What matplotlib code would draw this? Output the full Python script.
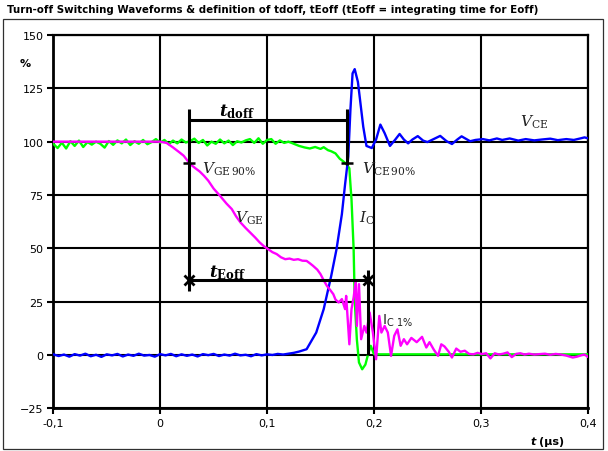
import numpy as np
import matplotlib
matplotlib.use("Agg")
import matplotlib.pyplot as plt
from matplotlib.patches import Rectangle

# ---------------------------------------------------------
# DATA (t in µs, values in %)
# ---------------------------------------------------------
vce_t = [-0.100, -0.095, -0.090, -0.085, -0.080, -0.075, -0.070, -0.065, -0.060, -0.055,
         -0.050, -0.045, -0.040, -0.035, -0.030, -0.025, -0.020, -0.015, -0.010, -0.005,
         0.000, 0.005, 0.010, 0.015, 0.020, 0.025, 0.030, 0.035, 0.040, 0.045,
         0.050, 0.055, 0.060, 0.065, 0.070, 0.075, 0.080, 0.085, 0.090, 0.095,
         0.100, 0.105, 0.110, 0.115, 0.120, 0.125, 0.130, 0.137, 0.146, 0.153,
         0.160, 0.165, 0.170, 0.173, 0.176, 0.178, 0.180, 0.182, 0.185, 0.190,
         0.193, 0.198, 0.202, 0.206, 0.210, 0.215, 0.220, 0.224, 0.228, 0.232,
         0.236, 0.241, 0.246, 0.250, 0.255, 0.262, 0.268, 0.273, 0.278, 0.282,
         0.290, 0.295, 0.302, 0.308, 0.315, 0.320, 0.327, 0.335, 0.342, 0.350,
         0.357, 0.365, 0.372, 0.380, 0.387, 0.393, 0.397, 0.400]
vce = [0.3, -0.5, 0.2, -0.8, 0.4, -0.3, 0.6, -0.6, 0.1, -0.9,
       0.3, -0.2, 0.5, -0.7, 0.2, -0.4, 0.6, -0.3, 0.0, -0.8,
       0.4, -0.2, 0.5, -0.6, 0.3, -0.4, 0.2, -0.7, 0.4, -0.1,
       0.5, -0.5, 0.2, -0.3, 0.6, -0.2, 0.1, -0.6, 0.4, -0.2,
       0.3, 0.0, 0.5, 0.2, 0.6, 1.0, 1.6, 2.7, 10.5, 21.5,
       37.0, 49.6, 66.0, 80.0, 93.0, 115.0, 132.0, 134.0, 128.0, 107.0,
       98.0, 97.0, 101.0, 108.0, 104.0, 98.0, 101.0, 103.6, 101.0, 99.2,
       101.0, 102.6, 100.5, 99.8, 101.0, 102.7, 100.2, 98.9, 101.0, 102.5,
       100.2, 100.8, 101.2, 100.6, 101.5, 100.8, 101.5, 100.5, 101.2, 100.6,
       101.0, 101.4, 100.7, 101.2, 100.8, 101.5, 102.0, 101.6]

ic_t = [-0.100, -0.096, -0.092, -0.088, -0.084, -0.080, -0.076, -0.072, -0.068, -0.064,
        -0.060, -0.056, -0.052, -0.048, -0.044, -0.040, -0.036, -0.032, -0.028, -0.024,
        -0.020, -0.016, -0.012, -0.008, -0.004, 0.000, 0.004, 0.008, 0.012, 0.016,
        0.020, 0.024, 0.028, 0.032, 0.036, 0.040, 0.044, 0.048, 0.052, 0.056,
        0.060, 0.064, 0.068, 0.072, 0.076, 0.080, 0.084, 0.088, 0.092, 0.096,
        0.100, 0.104, 0.108, 0.112, 0.116, 0.120, 0.124, 0.130, 0.135, 0.140,
        0.145, 0.150, 0.153, 0.157, 0.160, 0.164, 0.168, 0.172, 0.175, 0.177,
        0.178, 0.179, 0.181, 0.182, 0.184, 0.186, 0.189, 0.192, 0.195, 0.197,
        0.200, 0.205, 0.400]
ic = [99.0, 97.0, 99.5, 96.8, 100.2, 98.0, 100.5, 97.5, 99.8, 98.6,
      100.0, 99.0, 97.2, 100.3, 98.5, 100.6, 99.2, 101.0, 98.4, 100.2,
      99.0, 100.8, 98.8, 99.8, 101.2, 99.5, 100.8, 98.8, 100.5, 99.2,
      101.0, 99.6, 100.3, 101.4, 99.4, 100.8, 98.2, 100.0, 99.0, 101.0,
      99.2, 100.5, 98.4, 100.2, 99.6, 100.6, 101.2, 99.4, 101.6, 99.0,
      100.8, 101.2, 99.0, 100.6, 99.4, 100.0, 99.2, 98.0, 97.3, 96.8,
      97.5, 96.6, 97.4, 96.0, 95.5, 94.5, 92.0, 90.5, 89.0, 87.5,
      80.0, 73.0, 49.6, 26.0, 7.4, -3.5, -6.7, -4.5, 1.2, 4.3,
      0.4, 0.3, 0.3]

vge_t = [-0.100, 0.000, 0.006, 0.012, 0.018, 0.022, 0.028, 0.033, 0.037, 0.041,
         0.045, 0.050, 0.056, 0.062, 0.067, 0.071, 0.075, 0.080, 0.084, 0.089,
         0.093, 0.097, 0.101, 0.105, 0.109, 0.113, 0.117, 0.121, 0.125, 0.129,
         0.133, 0.137, 0.140, 0.143, 0.147, 0.150, 0.153, 0.156, 0.159, 0.162,
         0.164, 0.167, 0.170, 0.173, 0.174, 0.177, 0.179, 0.181, 0.183, 0.184,
         0.186, 0.188, 0.191, 0.193, 0.196, 0.199, 0.202, 0.205, 0.207, 0.210,
         0.213, 0.216, 0.219, 0.222, 0.225, 0.228, 0.231, 0.235, 0.240, 0.245,
         0.249, 0.252, 0.256, 0.260, 0.263, 0.266, 0.270, 0.273, 0.277, 0.281,
         0.285, 0.289, 0.293, 0.297, 0.301, 0.305, 0.309, 0.313, 0.317, 0.321,
         0.325, 0.329, 0.333, 0.337, 0.341, 0.345, 0.350, 0.355, 0.360, 0.365,
         0.370, 0.375, 0.380, 0.386, 0.390, 0.395, 0.397, 0.400]
vge = [100.0, 100.0, 99.4, 97.3, 95.0, 93.4, 89.5, 87.5, 86.0, 84.0,
       81.7, 78.0, 74.6, 71.0, 68.4, 65.0, 62.2, 59.5, 57.5, 55.0,
       52.8, 51.0, 49.6, 48.2, 47.3, 45.8, 44.9, 45.2, 44.6, 44.9,
       44.2, 44.1, 43.0, 41.8, 40.0, 37.9, 35.0, 32.4, 30.5, 28.5,
       26.0, 24.6, 26.2, 21.5, 27.7, 5.0, 21.5, 27.0, 34.8, 13.6,
       33.2, 7.4, 13.6, 10.5, 19.9, 10.5, -2.0, 18.3, 10.5, 13.6,
       10.5, -0.4, 9.0, 12.0, 4.3, 7.4, 5.0, 8.0, 6.0, 8.5,
       3.5, 6.0, 2.5, -0.4, 5.0, 4.0, 1.5, -1.2, 3.0, 1.5,
       2.0, 0.5, 0.3, 1.0, 0.4, 0.8, -1.6, 0.8, 0.2, 0.6,
       1.2, -1.0, 0.5, 0.8, 0.2, 0.6, 0.2, 0.4, 0.6, 0.1,
       0.5, 0.2, -0.3, -1.2, -0.8, 0.0, 0.2, -0.8]

# definition points of tdoff / tEoff
t_vge90 = 0.027
t_vce90 = 0.1745
t_ic1 = 0.1947
lvl_90 = 90
lvl_tdoff = 110
lvl_teoff = 35

x_ticks = [-0.1, 0.0, 0.1, 0.2, 0.3, 0.4]
x_labels = ['-0,1', '0', '0,1', '0,2', '0,3', '0,4']
y_ticks = [-25, 0, 25, 50, 75, 100, 125, 150]

# ---------------------------------------------------------
# PLOT
# ---------------------------------------------------------
plt.rcParams['font.family'] = 'DejaVu Sans'
plt.rcParams['mathtext.fontset'] = 'dejavuserif'
plt.rcParams['mathtext.it'] = 'DejaVu Serif:italic:bold'
plt.rcParams['mathtext.bf'] = 'DejaVu Serif:bold'
plt.rcParams['mathtext.rm'] = 'DejaVu Serif'

W, H = 608, 452
fig = plt.figure(figsize=(W / 100, H / 100), dpi=100)
ax = fig.add_axes([53.3 / W, 1 - 409.3 / H, (587.7 - 53.3) / W, (409.3 - 36) / H])

ax.plot(ic_t, ic, color='#00ff00', lw=1.7, zorder=3)
ax.plot(vce_t, vce, color='#0000ff', lw=1.7, zorder=4)
ax.plot(vge_t, vge, color='#ff00ff', lw=1.7, zorder=5)

# tdoff bracket
k = dict(color='black', lw=2.2, zorder=6, solid_capstyle='butt')
ax.plot([t_vge90, t_vce90], [lvl_tdoff, lvl_tdoff], **k)
ax.plot([t_vge90, t_vge90], [115.5, 29.8], **k)
ax.plot([t_vce90, t_vce90], [115.5, 89], **k)
ax.plot([t_vge90, t_vce90], [lvl_90, lvl_90], ls='none', marker='_', ms=8,
        mew=1.8, color='black', zorder=7)
# tEoff bracket
ax.plot([t_vge90, t_ic1], [lvl_teoff, lvl_teoff], **k)
ax.plot([t_ic1, t_ic1], [39.8, 0], **k)
ax.plot([t_vge90, t_ic1], [lvl_teoff, lvl_teoff], ls='none', marker='x', ms=7,
        mew=2, color='black', zorder=7)

# labels
tc = '#222222'
ax.text(0.0553, 114.5, r'$t_{\mathbf{doff}}$', math_fontfamily='custom', fontsize=12,
        ha='left', va='center', color='black', zorder=8)
ax.text(0.046, 39.0, r'$t_{\mathbf{Eoff}}$', math_fontfamily='custom', fontsize=12,
        ha='left', va='center', color='black', zorder=8)
ax.text(0.039, 87.5, r'$V_{\mathrm{GE\,90\%}}$', fontsize=11, ha='left', va='center', color=tc, zorder=8)
ax.text(0.1886, 87.5, r'$V_{\mathrm{CE\,90\%}}$', fontsize=11, ha='left', va='center', color=tc, zorder=8)
ax.text(0.070, 64.5, r'$V_{\mathrm{GE}}$', fontsize=11, ha='left', va='center', color=tc, zorder=8)
ax.text(0.186, 64.5, r'$I_{\mathrm{C}}$', fontsize=11, ha='left', va='center', color=tc, zorder=8)
ax.text(0.3367, 109.5, r'$V_{\mathrm{CE}}$', fontsize=11, ha='left', va='center', color=tc, zorder=8)
ax.text(0.2075, 16.5, r'I$_{\mathrm{C\ 1\%}}$', math_fontfamily='dejavusans', fontsize=10,
        ha='left', va='center', color=tc, zorder=8)

ax.set_xlim(-0.1, 0.4)
ax.set_ylim(-25, 150)
ax.set_xticks(x_ticks)
ax.set_xticklabels(x_labels)
ax.set_yticks(y_ticks)
ax.grid(True, color='black', lw=1.5)
ax.set_axisbelow(True)
for s in ax.spines.values():
    s.set_linewidth(1.6)
ax.spines['left'].set_linewidth(2.0)
ax.spines['bottom'].set_linewidth(2.0)
ax.tick_params(direction='out', length=4, width=1.5, labelsize=8, colors='black', pad=3)

fig.text(7 / W, 1 - 10 / H, 'Turn-off Switching Waveforms & definition of tdoff, tEoff (tEoff = integrating time for Eoff)',
         fontsize=7.4, fontweight='bold', ha='left', va='center')
fig.text(25 / W, 1 - 64 / H, '%', fontsize=8, fontweight='bold', ha='center', va='center')
fig.text(564 / W, 1 - 441.7 / H, '(µs)', fontsize=8, fontweight='bold', ha='right', va='center')
fig.text(536 / W, 1 - 441.7 / H, 't', fontsize=8, fontweight='bold', fontstyle='italic',
         ha='right', va='center')

fig.patches.append(Rectangle((3 / W, 2 / H), 600 / W, 430 / H, transform=fig.transFigure,
                             fill=False, ec='#303030', lw=0.9))

plt.savefig('out.png', dpi=100)
